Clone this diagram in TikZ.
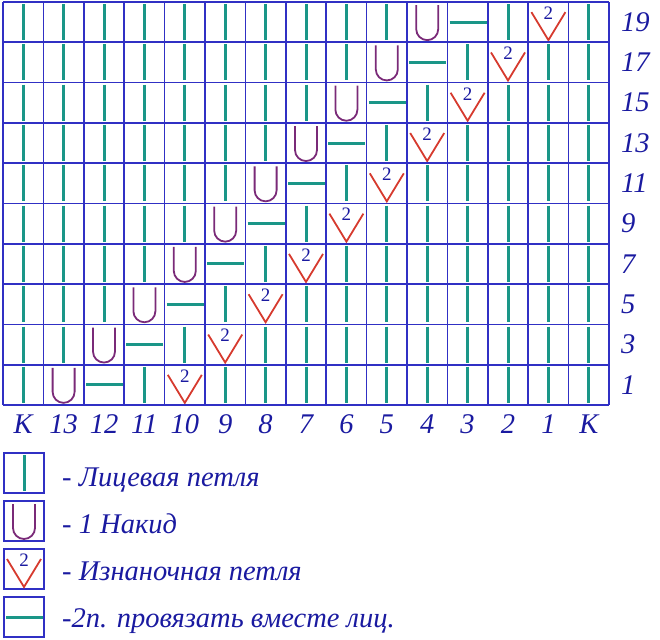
\documentclass[tikz,border=0pt]{standalone}
\usepackage{fontspec}
\setmainfont{Liberation Serif}

\definecolor{gridblue}{RGB}{48,48,196}
\definecolor{knitteal}{RGB}{26,150,136}
\definecolor{purlred}{RGB}{214,58,46}
\definecolor{yopurple}{RGB}{122,42,120}
\definecolor{textblue}{RGB}{26,26,160}

\tikzset{
  gridline/.style={draw=gridblue, line width=1.6pt},
  knitline/.style={draw=knitteal, line width=3pt},
  yoline/.style={draw=yopurple, line width=1.8pt},
  purlline/.style={draw=purlred, line width=1.8pt},
  numtext/.style={text=textblue, inner sep=0pt, font=\fontsize{28.5}{32}\selectfont\itshape},
  smalltwo/.style={text=textblue, inner sep=0pt, font=\fontsize{19}{20}\selectfont},
  pics/knit/.style={code={\draw[knitline] (0,-18) -- (0,18);}},
  pics/ktog/.style={code={\draw[knitline] (-18,0) -- (19,0);}},
  pics/yo/.style={code={\draw[yoline] (-11,-17) -- (-11,7) arc (180:0:11) -- (11,-17);}},
  pics/purl/.style={code={
    \draw[purlline, line join=miter] (-17,-10) -- (0,18) -- (17,-10);
    \node[smalltwo] (two) at (0,-9) {2};}}
}

\begin{document}
\begin{tikzpicture}[x=1pt, y=-1pt]
\useasboundingbox (0,0) rectangle (660,639);

% stitches of the chart
\foreach \r in {0,...,9} {
  \foreach \c in {0,...,14} {
    \pgfmathtruncatemacro{\d}{\c-\r}
    \coordinate (s-\r-\c) at ({23.2+40.4*\c},{384.85-40.3*\r});
    \ifnum\d=1 \pic at (s-\r-\c) {yo};
    \else\ifnum\d=2 \pic at (s-\r-\c) {ktog};
    \else\ifnum\d=4 \pic at (s-\r-\c) {purl};
    \else \pic at (s-\r-\c) {knit};
    \fi\fi\fi
  }
}

% grid
\foreach \c in {0,...,15}
  \draw[gridline] ({3+40.4*\c},2) -- ({3+40.4*\c},405);
\foreach \r in {0,...,10}
  \draw[gridline] (3,{2+40.3*\r}) -- (609,{2+40.3*\r});

% column numbers
\foreach \t [count=\i from 0] in {К,13,12,11,10,9,8,7,6,5,4,3,2,1,К}
  \node[numtext, anchor=base] (col-\i) at ({23.2+40.4*\i},433) {\t};

% row numbers
\foreach \r in {0,...,9} {
  \pgfmathtruncatemacro{\n}{2*\r+1}
  \node[numtext, anchor=base west] (row-\n) at (621,{394-40.3*\r}) {\n};
}

% legend
\draw[gridline] (4,453) rectangle (44,493);
\pic at (24,473) {knit};
\node[numtext, anchor=base west] (leg-knit) at (62,486) {- Лицевая петля};

\draw[gridline] (4,501) rectangle (44,541);
\pic at (24,521) {yo};
\node[numtext, anchor=base west] (leg-yo) at (62,533) {- 1 Накид};

\draw[gridline] (4,549) rectangle (44,589);
\pic at (24,569) {purl};
\node[numtext, anchor=base west] (leg-purl) at (62,580) {- Изнаночная петля};

\draw[gridline] (4,597) rectangle (44,637);
\pic at (24,617) {ktog};
\node[numtext, anchor=base west] (leg-ktog) at (62,627) {-2п. провязать вместе лиц.};
\end{tikzpicture}
\end{document}
